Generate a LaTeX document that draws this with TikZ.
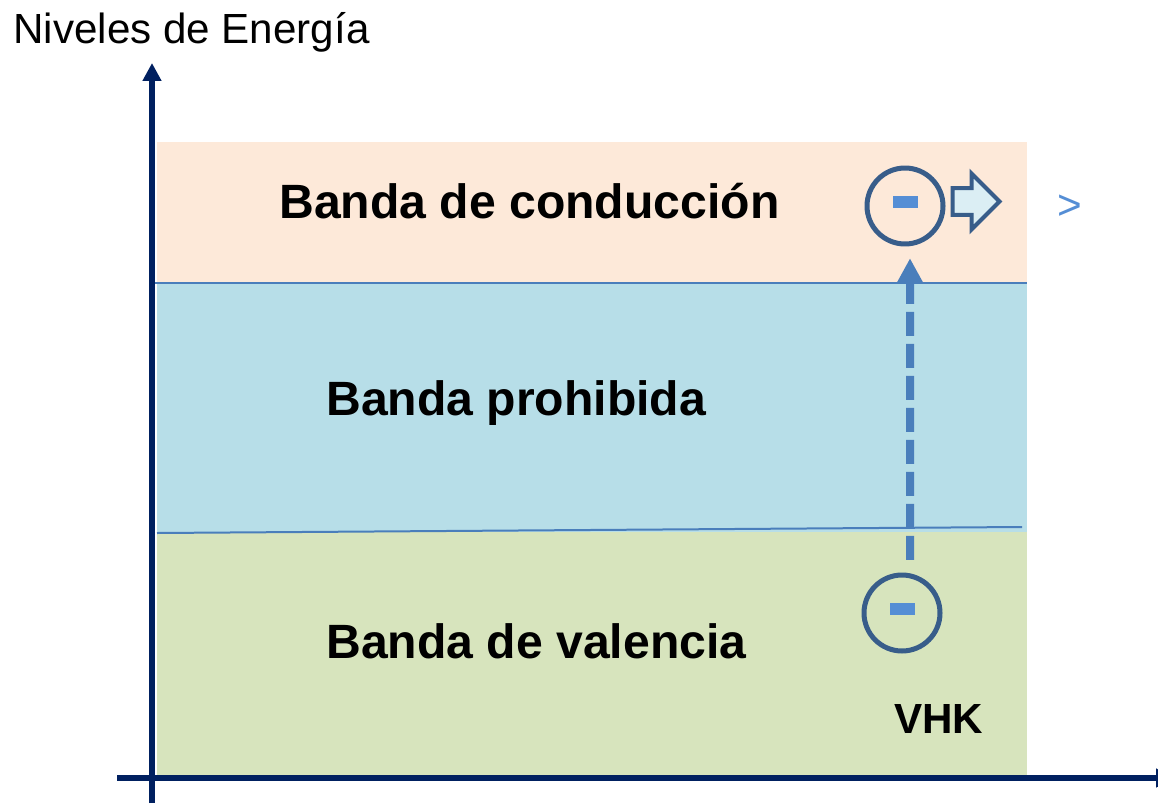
\documentclass[tikz,border=0pt]{standalone}
\usepackage{fontspec}
\setmainfont{Liberation Sans}
\usetikzlibrary{arrows.meta,positioning,shapes.arrows}
\definecolor{condfill}{HTML}{FDE9D9}
\definecolor{gapfill}{HTML}{B7DEE8}
\definecolor{valfill}{HTML}{D7E4BD}
\definecolor{lineblue}{HTML}{4A7EBB}
\definecolor{axisblue}{HTML}{002060}
\definecolor{eline}{HTML}{385D8A}
\definecolor{eminus}{HTML}{558ED5}
\definecolor{pushfill}{HTML}{DBEEF4}
\tikzset
{
    bandlabel/.style = {anchor=base west, inner sep=0pt, font=\fontsize{27.4}{32}\selectfont\bfseries},
    electron/.style  = {circle, draw=eline, line width=0.1cm, minimum size=1.52cm, inner sep=0pt},
    minus/.style     = {rectangle, fill=eminus, minimum width=0.5cm, minimum height=0.24cm, inner sep=0pt},
    axis/.style      = {draw=axisblue, line width=0.12cm, -{Triangle[length=0.36cm,width=0.36cm]}},
    jump/.style      = {draw=lineblue, line width=0.16cm, dash pattern=on 0.48cm off 0.16cm, -{Triangle[length=0.48cm,width=0.48cm]}},
    push/.style      = {single arrow, draw=eline, fill=pushfill, line width=0.08cm, minimum height=0.94cm, single arrow head extend=0.29cm, inner sep=0.23cm},
    bandline/.style  = {draw=lineblue, line width=0.04cm}
}
\begin{document}
\begin{tikzpicture}[x=0.02cm, y=-0.02cm]
\useasboundingbox (0,0) rectangle (1158,804);
\clip (0,0) rectangle (1158,804);
% bands
\fill[condfill] (157,142) rectangle (1027,283);
\fill[gapfill] (157,283) rectangle (1027,532);
\fill[valfill] (157,532) rectangle (1027,775);
\draw[bandline] (152,283) -- (1027,283);
\draw[bandline] (157,533) -- (1022,527);
% axes
\coordinate (ybot) at (152,803);
\coordinate (ytop) at (152,63);
\coordinate (xleft) at (117,778);
\coordinate (xright) at (1174,778);
\draw[axis] (ybot) -- (ytop);
\draw[axis] (xleft) -- (xright);
% labels
\node[anchor=base west, inner sep=0pt, font=\fontsize{24}{29}\selectfont] (title) at (13,44) {Niveles de Energía};
\node[bandlabel] (cond) at (279,218) {Banda de conducción};
\node[bandlabel] (gap) at (326,415) {Banda prohibida};
\node[bandlabel] (val) at (326,658) {Banda de valencia};
\node[anchor=base west, inner sep=0pt, font=\fontsize{24}{29}\selectfont\bfseries] (vhk) at (894,733) {VHK};
% electrons
\node[electron] (eA) at (905,206) {};
\node[electron] (eB) at (902,613) {};
\node[minus, yshift=0.09cm] (mA) at (eA) {};
\node[minus, yshift=0.09cm] (mB) at (eB) {};
\node[push, right=0.1cm of eA, yshift=0.09cm] (out) {};
\node[text=eminus, font=\fontsize{24}{29}\selectfont] (more) at (1070,207) {>};
\draw[jump, shorten <=0.255cm, shorten >=0.235cm] ([xshift=0.16cm]eB.north) -- ([xshift=0.1cm]eA.south);
\end{tikzpicture}
\end{document}
